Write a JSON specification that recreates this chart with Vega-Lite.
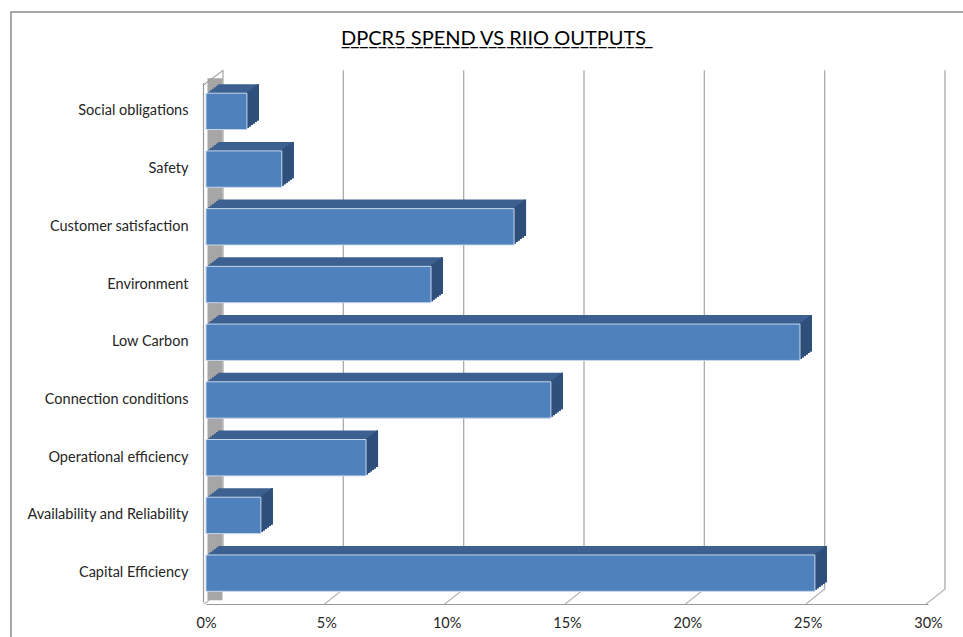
{
  "$schema": "https://vega.github.io/schema/vega-lite/v6.json",
  "width": 962,
  "height": 635,
  "autosize": {"type": "none"},
  "padding": {"left": 11, "top": 12, "right": -10, "bottom": -10},
  "title": {
    "text": "DPCR5 SPEND VS RIIO OUTPUTS",
    "subtitle": "__________________________________",
    "font": "Lato",
    "fontSize": 20,
    "fontWeight": "normal",
    "color": "#000000",
    "subtitleFont": "Lato",
    "subtitleFontSize": 20,
    "subtitleColor": "#000000",
    "subtitlePadding": -20,
    "anchor": "start",
    "baseline": "top",
    "offset": 0,
    "dy": 37,
    "dx": 330
  },
  "datasets": {
    "bars": [
      {"cat": "Social obligations", "value": 0.0170},
      {"cat": "Safety", "value": 0.0315},
      {"cat": "Customer satisfaction", "value": 0.1280},
      {"cat": "Environment", "value": 0.0935},
      {"cat": "Low Carbon", "value": 0.2468},
      {"cat": "Connection conditions", "value": 0.1433},
      {"cat": "Operational efficiency", "value": 0.0665},
      {"cat": "Availability and Reliability", "value": 0.0228},
      {"cat": "Capital Efficiency", "value": 0.2530}
    ],
    "ticks": [{"v": 0}, {"v": 0.05}, {"v": 0.1}, {"v": 0.15}, {"v": 0.2}, {"v": 0.25}, {"v": 0.3}]
  },
  "config": {
    "view": {"stroke": "#8c8c8c", "strokeWidth": 1.5},
    "font": "Lato",
    "axisX": {"offset": -43, "domainColor": "#9a9a9a", "domainWidth": 1.2, "ticks": false, "labelPadding": 12, "labelFont": "Lato", "labelFontSize": 14.5, "labelColor": "#262626", "grid": false, "labelFlush": false},
    "axisY": {"offset": -192, "domainColor": "#9a9a9a", "domainWidth": 1.2, "ticks": false, "labelPadding": 15, "labelFont": "Lato", "labelFontSize": 14.5, "labelColor": "#262626", "grid": false}
  },
  "layer": [
    {
      "data": {"name": "ticks"},
      "transform": [{"filter": "datum.v == 0"}],
      "mark": {"type": "rule", "color": "#a6a6a6", "strokeWidth": 15, "strokeCap": "butt", "xOffset": 9, "yOffset": -33, "y2Offset": 27},
      "encoding": {
        "x": {"field": "v", "type": "quantitative", "title": null, "scale": {"domain": [0, 0.3], "range": [195, 917], "nice": false, "zero": true}, "axis": {"format": "%", "values": [0, 0.05, 0.1, 0.15, 0.2, 0.25, 0.3]}},
        "y": {"datum": "Social obligations", "type": "nominal", "title": null, "scale": {"domain": ["Social obligations", "Safety", "Customer satisfaction", "Environment", "Low Carbon", "Connection conditions", "Operational efficiency", "Availability and Reliability", "Capital Efficiency"], "range": [70.5, 590], "paddingInner": 0.37, "paddingOuter": 0.185}},
        "y2": {"datum": "Capital Efficiency"}
      }
    },
    {
      "data": {"name": "ticks"},
      "mark": {"type": "rule", "color": "#ababab", "strokeWidth": 1.3, "xOffset": 17, "yOffset": -41, "y2Offset": 16},
      "encoding": {
        "x": {"field": "v", "type": "quantitative", "title": null},
        "y": {"datum": "Social obligations", "type": "nominal", "title": null},
        "y2": {"datum": "Capital Efficiency"}
      }
    },
    {
      "data": {"name": "ticks"},
      "mark": {"type": "rule", "color": "#ababab", "strokeWidth": 1.2, "xOffset": -2, "x2Offset": 17, "yOffset": 31, "y2Offset": 16},
      "encoding": {
        "x": {"field": "v", "type": "quantitative", "title": null},
        "x2": {"field": "v"},
        "y": {"datum": "Capital Efficiency", "type": "nominal", "title": null},
        "y2": {"datum": "Capital Efficiency"}
      }
    },
    {
      "data": {"name": "ticks"},
      "transform": [{"filter": "datum.v == 0"}],
      "mark": {"type": "rule", "color": "#9a9a9a", "strokeWidth": 1.2, "xOffset": -3, "x2Offset": 17, "yOffset": -26, "y2Offset": -41},
      "encoding": {
        "x": {"field": "v", "type": "quantitative", "title": null},
        "x2": {"field": "v"},
        "y": {"datum": "Social obligations", "type": "nominal", "title": null},
        "y2": {"datum": "Social obligations"}
      }
    },
    {"data": {"name": "bars"}, "mark": {"type": "bar", "color": "#3c6191", "xOffset": 12, "x2Offset": 12, "yOffset": -9, "y2Offset": -9}, "encoding": {"x": {"field": "value", "type": "quantitative", "title": null}, "y": {"field": "cat", "type": "nominal", "title": null}}},
    {"data": {"name": "bars"}, "mark": {"type": "bar", "color": "#3c6191", "xOffset": 10, "x2Offset": 10, "yOffset": -7.5, "y2Offset": -7.5}, "encoding": {"x": {"field": "value", "type": "quantitative", "title": null}, "y": {"field": "cat", "type": "nominal", "title": null}}},
    {"data": {"name": "bars"}, "mark": {"type": "bar", "color": "#3c6191", "xOffset": 8, "x2Offset": 8, "yOffset": -6, "y2Offset": -6}, "encoding": {"x": {"field": "value", "type": "quantitative", "title": null}, "y": {"field": "cat", "type": "nominal", "title": null}}},
    {"data": {"name": "bars"}, "mark": {"type": "bar", "color": "#3c6191", "xOffset": 6, "x2Offset": 6, "yOffset": -4.5, "y2Offset": -4.5}, "encoding": {"x": {"field": "value", "type": "quantitative", "title": null}, "y": {"field": "cat", "type": "nominal", "title": null}}},
    {"data": {"name": "bars"}, "mark": {"type": "bar", "color": "#3c6191", "xOffset": 4, "x2Offset": 4, "yOffset": -3, "y2Offset": -3}, "encoding": {"x": {"field": "value", "type": "quantitative", "title": null}, "y": {"field": "cat", "type": "nominal", "title": null}}},
    {"data": {"name": "bars"}, "mark": {"type": "bar", "color": "#3c6191", "xOffset": 2, "x2Offset": 2, "yOffset": -1.5, "y2Offset": -1.5}, "encoding": {"x": {"field": "value", "type": "quantitative", "title": null}, "y": {"field": "cat", "type": "nominal", "title": null}}},
    {"data": {"name": "bars"}, "mark": {"type": "bar", "color": "#2f4f7b", "xOffset": 10, "x2Offset": 12, "yOffset": -9, "y2Offset": -9}, "encoding": {"x": {"field": "value", "type": "quantitative", "title": null}, "x2": {"field": "value"}, "y": {"field": "cat", "type": "nominal", "title": null}}},
    {"data": {"name": "bars"}, "mark": {"type": "bar", "color": "#2f4f7b", "xOffset": 8, "x2Offset": 10, "yOffset": -7.5, "y2Offset": -7.5}, "encoding": {"x": {"field": "value", "type": "quantitative", "title": null}, "x2": {"field": "value"}, "y": {"field": "cat", "type": "nominal", "title": null}}},
    {"data": {"name": "bars"}, "mark": {"type": "bar", "color": "#2f4f7b", "xOffset": 6, "x2Offset": 8, "yOffset": -6, "y2Offset": -6}, "encoding": {"x": {"field": "value", "type": "quantitative", "title": null}, "x2": {"field": "value"}, "y": {"field": "cat", "type": "nominal", "title": null}}},
    {"data": {"name": "bars"}, "mark": {"type": "bar", "color": "#2f4f7b", "xOffset": 4, "x2Offset": 6, "yOffset": -4.5, "y2Offset": -4.5}, "encoding": {"x": {"field": "value", "type": "quantitative", "title": null}, "x2": {"field": "value"}, "y": {"field": "cat", "type": "nominal", "title": null}}},
    {"data": {"name": "bars"}, "mark": {"type": "bar", "color": "#2f4f7b", "xOffset": 2, "x2Offset": 4, "yOffset": -3, "y2Offset": -3}, "encoding": {"x": {"field": "value", "type": "quantitative", "title": null}, "x2": {"field": "value"}, "y": {"field": "cat", "type": "nominal", "title": null}}},
    {"data": {"name": "bars"}, "mark": {"type": "bar", "color": "#2f4f7b", "xOffset": 0, "x2Offset": 2, "yOffset": -1.5, "y2Offset": -1.5}, "encoding": {"x": {"field": "value", "type": "quantitative", "title": null}, "x2": {"field": "value"}, "y": {"field": "cat", "type": "nominal", "title": null}}},
    {"data": {"name": "bars"}, "mark": {"type": "bar", "color": "#4f81bd", "stroke": "#c6d6ec", "strokeWidth": 1}, "encoding": {"x": {"field": "value", "type": "quantitative", "title": null}, "y": {"field": "cat", "type": "nominal", "title": null}}}
  ]
}
